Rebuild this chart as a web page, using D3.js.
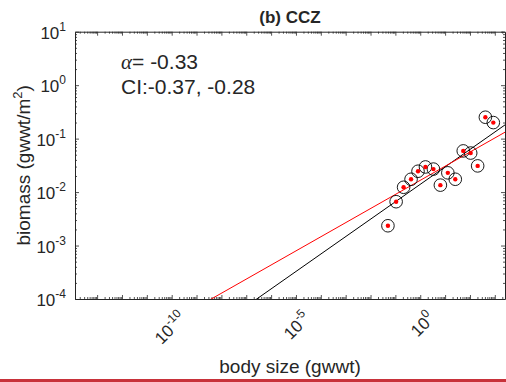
<!DOCTYPE html>
<html>
<head>
<meta charset="utf-8">
<script src="https://cdn.jsdelivr.net/npm/d3@7"></script>
<style>
  body { margin: 0; background: #fff; }
  text { font-family: "Liberation Sans", Arial, sans-serif; fill: #262626; }
</style>
</head>
<body>
<div id="chart"></div>
<script>
// Points as log10 values
const logBodySize = [2.62, 2.94, 1.73, 2.03, 2.31, 1.11, 1.41, 0.81, 0.21, 0.53, -0.09, -0.37, -0.67, -0.97, -1.30];
const logBiomass  = [-0.60, -0.70, -1.23, -1.27, -1.51, -1.64, -1.76, -1.87, -1.53, -1.57, -1.61, -1.76, -1.91, -2.18, -2.63];

// Fitted lines in log-log space (black first, then red)
const fitSlopes = [0.326, 0.264];
const fitIntercepts = [-1.855, -1.78];

const xLabelExps = [-10, -5, 0];
const yLabelExps = [-4, -3, -2, -1, 0, 1];
const xDomainExps = [-13.89, 3.41];
const yDomainExps = [-4, 1];

const annotAlpha = "-0.33";
const annotCI = "CI:-0.37, -0.28";

drawChart();

function drawChart() {
    const W = 506, H = 382;
    const left = 75, right = 505, top = 31.7, bottom = 299;
    const axisColor = "#262626";

    const svg = d3.select("#chart").append("svg")
        .attr("width", W).attr("height", H);

    const x = d3.scaleLog().domain(xDomainExps.map(e => Math.pow(10, e))).range([left, right]);
    const y = d3.scaleLog().domain(yDomainExps.map(e => Math.pow(10, e))).range([bottom, top]);

    // decade ticks and minor ticks
    const xMajor = d3.range(Math.ceil(xDomainExps[0]), Math.floor(xDomainExps[1]) + 1).map(e => Math.pow(10, e));
    const xMinor = [];
    d3.range(Math.floor(xDomainExps[0]), Math.ceil(xDomainExps[1])).forEach(e => {
        for (let k = 2; k < 10; k++) {
            const v = k * Math.pow(10, e);
            if (v >= x.domain()[0] && v <= x.domain()[1]) xMinor.push(v);
        }
    });
    const yMajor = yLabelExps.map(e => Math.pow(10, e));
    const yMinor = [];
    d3.range(yDomainExps[0], yDomainExps[1]).forEach(e => {
        for (let k = 2; k < 10; k++) yMinor.push(k * Math.pow(10, e));
    });

    function addAxis(gen, tx, ty, vals, size) {
        const g = svg.append("g").attr("transform", `translate(${tx},${ty})`)
            .call(gen.tickValues(vals).tickSize(size).tickSizeOuter(0).tickFormat(""));
        g.selectAll("line").attr("stroke", axisColor).attr("stroke-width", 0.8);
        g.select(".domain").attr("stroke", axisColor).attr("stroke-width", 1);
        return g;
    }

    // bottom / top
    addAxis(d3.axisBottom(x), 0, bottom, xMajor, -4);
    addAxis(d3.axisBottom(x), 0, bottom, xMinor, -2).select(".domain").remove();
    addAxis(d3.axisTop(x), 0, top, xMajor, -4);
    addAxis(d3.axisTop(x), 0, top, xMinor, -2).select(".domain").remove();
    // left / right
    addAxis(d3.axisLeft(y), left, 0, yMajor, -4);
    addAxis(d3.axisLeft(y), left, 0, yMinor, -2).select(".domain").remove();
    addAxis(d3.axisRight(y), right, 0, yMajor, -4);
    addAxis(d3.axisRight(y), right, 0, yMinor, -2).select(".domain").remove();

    // y tick labels
    yLabelExps.forEach(e => {
        const t = svg.append("text")
            .attr("x", left - 9).attr("y", y(Math.pow(10, e)) + 7)
            .attr("text-anchor", "end").attr("font-size", 17);
        t.append("tspan").text("10");
        t.append("tspan").attr("dy", -8).attr("font-size", 12).text(e);
    });

    // x tick labels, rotated 45 degrees
    xLabelExps.forEach(e => {
        const t = svg.append("text")
            .attr("transform", `translate(${x(Math.pow(10, e)) + 6},${bottom + 11}) rotate(-45)`)
            .attr("text-anchor", "end").attr("font-size", 17).attr("dy", "0.8em");
        t.append("tspan").text("10");
        t.append("tspan").attr("dy", -8).attr("font-size", 12).text(e);
    });

    // fitted lines, clipped to the axes box
    svg.append("clipPath").attr("id", "plotClip")
        .append("rect").attr("x", left).attr("y", top)
        .attr("width", right - left).attr("height", bottom - top);
    const lineColors = ["#000000", "#ff0000"];
    fitSlopes.forEach((m, i) => {
        const pts = x.domain().map(v => [v, Math.pow(10, fitIntercepts[i] + m * Math.log10(v))]);
        svg.append("path")
            .attr("clip-path", "url(#plotClip)")
            .attr("d", d3.line().x(d => x(d[0])).y(d => y(d[1]))(pts))
            .attr("fill", "none").attr("stroke", lineColors[i]).attr("stroke-width", 1);
    });

    // points: open black circle with a red dot
    const pts = logBodySize.map((lx, i) => [Math.pow(10, lx), Math.pow(10, logBiomass[i])]);
    svg.selectAll(".ring").data(pts).enter().append("circle")
        .attr("class", "ring")
        .attr("cx", d => x(d[0])).attr("cy", d => y(d[1])).attr("r", 6.3)
        .attr("fill", "none").attr("stroke", "#000").attr("stroke-width", 0.9);
    svg.selectAll(".dot").data(pts).enter().append("circle")
        .attr("class", "dot")
        .attr("cx", d => x(d[0])).attr("cy", d => y(d[1])).attr("r", 2.2)
        .attr("fill", "#ff0000");

    // annotation
    const a = svg.append("text").attr("x", 121).attr("y", 69).attr("font-size", 21);
    a.append("tspan").attr("font-family", "'Liberation Serif', 'Times New Roman', serif")
        .attr("font-style", "italic").text("\u03b1");
    a.append("tspan").text("= " + annotAlpha);
    svg.append("text").attr("x", 121).attr("y", 94).attr("font-size", 21).text(annotCI);

    // title
    svg.append("text").attr("x", (left + right) / 2).attr("y", 23)
        .attr("text-anchor", "middle").attr("font-size", 17).attr("font-weight", "bold")
        .attr("fill", "#000").text("(b) CCZ");

    // axis labels
    svg.append("text").attr("x", (left + right) / 2).attr("y", 373)
        .attr("text-anchor", "middle").attr("font-size", 19).text("body size (gwwt)");
    const yl = svg.append("text")
        .attr("transform", `translate(30,${(top + bottom) / 2}) rotate(-90)`)
        .attr("text-anchor", "middle").attr("font-size", 19);
    yl.append("tspan").text("biomass (gwwt/m");
    yl.append("tspan").attr("dy", -8).attr("font-size", 13).text("2");
    yl.append("tspan").attr("dy", 8).text(")");

    // red rule along the bottom edge
    svg.append("rect").attr("x", 0).attr("y", 379).attr("width", W).attr("height", 3)
        .attr("fill", "#c8323a");
}
</script>
</body>
</html>
